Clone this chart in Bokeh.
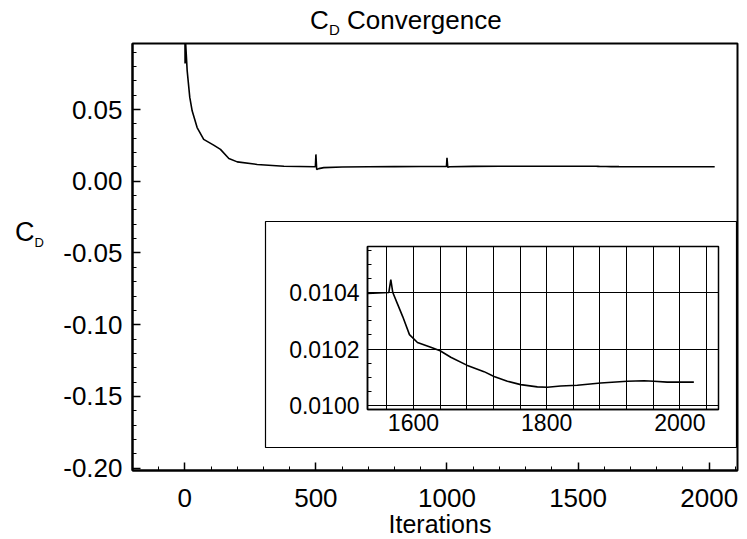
import numpy as np
from bokeh.plotting import figure
from bokeh.layouts import column
from bokeh.models import (Range1d, LinearAxis, FixedTicker, PrintfTickFormatter,
                          Grid, Div)
from bokeh.embed import file_html
from bokeh.resources import INLINE

# ---------------- data ----------------
iterations = [0, 1, 3, 9, 19, 28, 47, 72, 110, 136,
              168, 200, 276, 378, 498, 500, 503, 511, 530, 600,
              700, 800, 900, 998, 1000, 1003, 1010, 1100, 1200, 1300,
              1400, 1500, 1531, 1563, 1566, 1569, 1576, 1584, 1594, 1606,
              1626, 1640, 1656, 1680, 1706, 1721, 1741, 1761, 1786, 1801,
              1821, 1846, 1881, 1921, 1946, 1961, 1981, 2021]
cd = [0.130, 0.082, 0.097, 0.0771, 0.0584, 0.0491, 0.0374, 0.0292, 0.0252, 0.0222,
      0.0159, 0.0135, 0.0117, 0.0105, 0.0101, 0.0187, 0.0082, 0.0088, 0.0095, 0.0099,
      0.0101, 0.0102, 0.0103, 0.01035, 0.0163, 0.0097, 0.0101, 0.01035, 0.0104, 0.0104,
      0.0104, 0.0104, 0.010397, 0.01040, 0.010446, 0.01040, 0.01036, 0.010314, 0.010251, 0.010223,
      0.010206, 0.010194, 0.010171, 0.010143, 0.01012, 0.010103, 0.010086, 0.010074, 0.010066, 0.010065,
      0.010069, 0.010072, 0.01008, 0.010086, 0.010088, 0.010086, 0.010083, 0.010083]

main_x_ticks = [0, 500, 1000, 1500, 2000]
main_y_ticks = [-0.20, -0.15, -0.10, -0.05, 0.00, 0.05]
inset_x_labels = [1600, 1800, 2000]
inset_x_grid = [1560, 1600, 1640, 1680, 1720, 1760, 1800, 1840, 1880, 1920, 1960, 2000, 2040]
inset_y_ticks = [0.0100, 0.0102, 0.0104]

main_x_range = (-199.5, 2108)
main_y_range = (-0.2016, 0.0960)
inset_x_range = (1531, 2058)
inset_y_range = (0.009986, 0.010563)

title_text = ("C", "D", "Convergence")
y_label_text = ("C", "D")
x_label_text = "Iterations"

# ---------------- layout constants (page pixels) ----------------
W, H = 745, 537
FX0, FX1, FY0, FY1 = 132, 737, 43, 470          # main frame
IX0, IX1, IY0, IY1 = 367, 718, 246, 409         # inset plotting box
OX0, OX1, OY0, OY1 = 265, 736, 221, 447         # inset outer box
FONT = "Liberation Sans"

p = figure(width=W, height=H, output_backend="svg", toolbar_location=None,
           x_range=Range1d(*main_x_range), y_range=Range1d(*main_y_range),
           min_border_left=FX0, min_border_right=W - FX1,
           min_border_top=FY0, min_border_bottom=H - FY1,
           background_fill_color="white", border_fill_color="white")
p.grid.grid_line_color = None
p.outline_line_color = "black"
p.outline_line_width = 2
p.outline_line_alpha = 1

# main axes
xa = p.xaxis[0]
xa.ticker = FixedTicker(ticks=main_x_ticks, minor_ticks=list(np.arange(-100, 2101, 100)))
ya = p.yaxis[0]
ya.ticker = FixedTicker(ticks=main_y_ticks,
                        minor_ticks=list(np.round(np.arange(-0.20, 0.0951, 0.01), 2)))
ya.formatter = PrintfTickFormatter(format="%.2f")
for ax, stand in ((xa, 18), (ya, 10)):
    ax.axis_line_color = "black"
    ax.axis_line_width = 2
    ax.major_tick_in = 8
    ax.major_tick_out = 0
    ax.minor_tick_in = 4
    ax.minor_tick_out = 0
    ax.major_tick_line_color = "black"
    ax.major_tick_line_width = 1.5
    ax.minor_tick_line_color = "black"
    ax.major_label_text_font = FONT
    ax.major_label_text_font_size = "26px"
    ax.major_label_text_color = "black"
    ax.major_label_standoff = stand

# main curve
p.line(iterations, cd, line_color="black", line_width=1.6)

# ---------------- inset ----------------
ixp = (inset_x_range[1] - inset_x_range[0]) / (IX1 - IX0)
iyp = (inset_y_range[1] - inset_y_range[0]) / (IY1 - IY0)
p.extra_x_ranges = {"ix": Range1d(inset_x_range[0] - (IX0 - FX0) * ixp,
                                  inset_x_range[1] + (FX1 - IX1) * ixp)}
p.extra_y_ranges = {"iy": Range1d(inset_y_range[0] - (FY1 - IY1) * iyp,
                                  inset_y_range[1] + (IY0 - FY0) * iyp)}

# outer box
p.quad(left=inset_x_range[0] - (IX0 - OX0) * ixp, right=inset_x_range[1] + (OX1 - IX1) * ixp,
       bottom=inset_y_range[0] - (OY1 - IY1) * iyp, top=inset_y_range[1] + (IY0 - OY0) * iyp,
       fill_color=None, line_color="black", line_width=1.2,
       x_range_name="ix", y_range_name="iy")

gx = Grid(dimension=0, ticker=FixedTicker(ticks=inset_x_grid),
          x_range_name="ix", y_range_name="iy",
          bounds=inset_x_range, cross_bounds=inset_y_range,
          grid_line_color="black", grid_line_width=1)
gy = Grid(dimension=1, ticker=FixedTicker(ticks=inset_y_ticks),
          x_range_name="ix", y_range_name="iy",
          bounds=inset_y_range, cross_bounds=inset_x_range,
          grid_line_color="black", grid_line_width=1)
p.add_layout(gx)
p.add_layout(gy)

p.quad(left=inset_x_range[0], right=inset_x_range[1],
       bottom=inset_y_range[0], top=inset_y_range[1],
       fill_color=None, line_color="black", line_width=1.5,
       x_range_name="ix", y_range_name="iy")

mask = np.array(iterations) >= inset_x_range[0]
p.line(list(np.array(iterations)[mask]), list(np.array(cd)[mask]),
       line_color="black", line_width=1.6, x_range_name="ix", y_range_name="iy")

ial = LinearAxis(x_range_name="ix", y_range_name="iy", fixed_location=inset_x_range[0],
                 bounds=inset_y_range,
                 ticker=FixedTicker(ticks=inset_y_ticks,
                                    minor_ticks=list(np.round(np.arange(0.01, 0.01056, 0.00005), 5))),
                 formatter=PrintfTickFormatter(format="%.4f"))
iab = LinearAxis(x_range_name="ix", y_range_name="iy", fixed_location=inset_y_range[0],
                 bounds=inset_x_range, ticker=FixedTicker(ticks=inset_x_labels))
for ax, stand in ((ial, 8), (iab, 4)):
    ax.axis_line_color = "black"
    ax.axis_line_width = 1.5
    ax.major_tick_in = 0
    ax.major_tick_out = 0
    ax.minor_tick_in = 4
    ax.minor_tick_out = 0
    ax.minor_tick_line_color = "black"
    ax.major_label_text_font = FONT
    ax.major_label_text_font_size = "23px"
    ax.major_label_text_color = "black"
    ax.major_label_standoff = stand
iab.minor_tick_in = 0
p.add_layout(ial, "left")
p.add_layout(iab, "below")

# ---------------- texts outside the frame (HTML overlay) ----------------
ASC = 0.8465  # baseline offset of a line box whose line-height equals the font size


def span(x, baseline, text, size, center=False):
    top = baseline - ASC * size
    tr = "transform:translateX(-50%);" if center else ""
    return (f'<span style="position:absolute;left:{x}px;top:{top:.1f}px;color:#000000;'
            f"font-family:'{FONT}',Arial,sans-serif;"
            f'font-size:{size}px;line-height:{size}px;white-space:nowrap;{tr}">{text}</span>')


html = (f'<div style="position:relative;width:{W}px;height:{H}px;color:#000000;">'
        + span(310, 28.5, title_text[0], 26)
        + span(329, 34.5, title_text[1], 15)
        + span(347, 28.5, title_text[2], 26)
        + span(15, 242, y_label_text[0], 27)
        + span(34.5, 247, y_label_text[1], 13)
        + span(440, 533, x_label_text, 25, center=True)
        + "</div>")
overlay = Div(text=html, width=W, height=H, margin=0,
              styles={"position": "absolute", "left": "0px", "top": "0px",
                      "pointer-events": "none", "overflow": "visible",
                      "color": "#000000"})

layout = column(p, overlay, spacing=0, margin=0)
open("out.html", "w").write(file_html(layout, INLINE))
